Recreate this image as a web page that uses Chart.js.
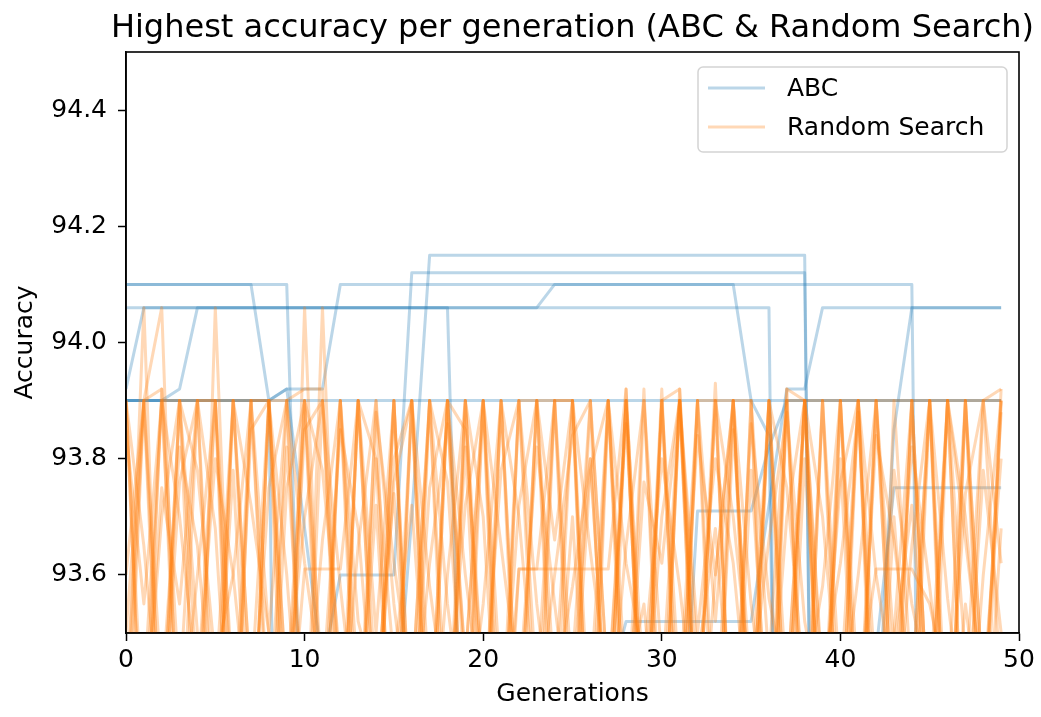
<!DOCTYPE html>
<html>
<head>
<meta charset="utf-8">
<title>Highest accuracy per generation</title>
<script src="https://cdn.jsdelivr.net/npm/chart.js@4.4.1/dist/chart.umd.min.js"></script>
<style>
    html, body { margin: 0; padding: 0; background: #fff; }
    canvas { display: block; }
</style>
</head>
<body>
<canvas id="myChart" width="1041" height="717"></canvas>
<script>
// Generasi (sumbu x)
const generations = [
    0, 1, 2, 3, 4, 5, 6, 7, 8, 9,
    10, 11, 12, 13, 14, 15, 16, 17, 18, 19,
    20, 21, 22, 23, 24, 25, 26, 27, 28, 29,
    30, 31, 32, 33, 34, 35, 36, 37, 38, 39,
    40, 41, 42, 43, 44, 45, 46, 47, 48, 49
];

const chartTitle = 'Highest accuracy per generation (ABC & Random Search)';
const seriesNames = ['ABC', 'Random Search'];
const xTicks = [0, 10, 20, 30, 40, 50];
const yTicks = [93.6, 93.8, 94.0, 94.2, 94.4];

// ABC: akurasi tertinggi per generasi, satu array per run
const abcRun1 = [
    93.90, 93.90, 93.90, 93.90, 93.90, 93.90, 93.90, 93.90, 93.90, 93.90,
    93.90, 93.90, 93.90, 93.90, 93.90, 93.90, 93.90, 93.90, 93.90, 93.90,
    93.90, 93.90, 93.90, 93.90, 93.90, 93.90, 93.90, 93.90, 93.90, 93.90,
    93.90, 93.90, 93.90, 93.90, 93.90, 93.90, 93.90, 93.90, 93.90, 93.90,
    93.90, 93.90, 93.90, 93.90, 93.90, 93.90, 93.90, 93.90, 93.90, 93.90
];
const abcRun2 = [
    94.06, 94.06, 94.06, 94.06, 94.06, 94.06, 94.06, 94.06, 94.06, 94.06,
    94.06, 94.06, 94.06, 94.06, 94.06, 94.06, 94.06, 94.06, 94.06, 93.00,
    93.20, 93.30, 93.25, 93.30, 93.35, 93.30, 93.40, 93.40, 93.52, 93.52,
    93.52, 93.52, 93.52, 93.52, 93.52, 93.52, 93.72, 93.92, 93.92, 94.06,
    94.06, 94.06, 94.06, 94.06, 94.06, 94.06, 94.06, 94.06, 94.06, 94.06
];
const abcRun3 = [
    93.92, 94.06, 94.06, 94.06, 94.06, 94.06, 94.06, 94.06, 94.06, 94.06,
    94.06, 94.06, 94.06, 94.06, 94.06, 94.06, 94.06, 94.06, 94.06, 94.06,
    94.06, 94.06, 94.06, 94.06, 94.06, 94.06, 94.06, 94.06, 94.06, 94.06,
    94.06, 94.06, 94.06, 94.06, 94.06, 94.06, 94.06, 91.50, 92.00, 92.50,
    92.80, 93.20, 93.47, 93.75, 93.75, 93.75, 93.75, 93.75, 93.75, 93.75
];
const abcRun4 = [
    93.90, 93.90, 93.90, 93.92, 94.06, 94.06, 94.06, 94.06, 94.06, 94.06,
    94.06, 94.06, 94.06, 94.06, 94.06, 94.06, 94.06, 94.06, 94.06, 94.06,
    94.06, 94.06, 94.06, 94.06, 94.10, 94.10, 94.10, 94.10, 94.10, 94.10,
    94.10, 94.10, 94.10, 94.10, 94.10, 93.90, 93.84, 92.00, 92.50, 92.80,
    93.00, 93.20, 93.30, 93.85, 94.06, 94.06, 94.06, 94.06, 94.06, 94.06
];
const abcRun5 = [
    94.10, 94.10, 94.10, 94.10, 94.10, 94.10, 94.10, 94.10, 93.90, 93.92,
    93.92, 93.92, 94.10, 94.10, 94.10, 94.10, 94.10, 94.10, 94.10, 94.10,
    94.10, 94.10, 94.10, 94.10, 94.10, 94.10, 94.10, 94.10, 94.10, 94.10,
    94.10, 94.10, 94.10, 94.10, 94.10, 94.10, 94.10, 94.10, 94.10, 94.10,
    94.10, 94.10, 94.10, 94.10, 94.10, 91.50, 92.00, 92.50, 92.80, 93.00
];
const abcRun6 = [
    93.90, 93.90, 93.90, 93.90, 93.90, 93.90, 93.90, 93.90, 93.90, 91.50,
    92.50, 92.80, 93.00, 93.10, 93.20, 93.30, 93.70, 94.15, 94.15, 94.15,
    94.15, 94.15, 94.15, 94.15, 94.15, 94.15, 94.15, 94.15, 94.15, 94.15,
    94.15, 94.15, 94.15, 94.15, 94.15, 94.15, 94.15, 94.15, 94.15, 91.50,
    92.00, 92.40, 92.70, 92.90, 93.00, 93.10, 93.10, 93.20, 93.20, 93.30
];
const abcRun7 = [
    94.10, 94.10, 94.10, 94.10, 94.10, 94.10, 94.10, 94.10, 94.10, 94.10,
    93.10, 93.20, 93.25, 93.30, 93.30, 93.35, 93.30, 93.40, 93.35, 93.30,
    93.40, 93.40, 93.35, 93.40, 93.30, 93.35, 93.40, 93.40, 93.30, 93.35,
    93.30, 93.20, 93.71, 93.71, 93.71, 93.71, 93.82, 93.90, 93.90, 93.90,
    93.90, 93.90, 93.90, 93.90, 93.90, 93.90, 93.90, 93.90, 93.90, 93.90
];
const abcRun8 = [
    93.90, 93.90, 93.90, 93.90, 93.90, 93.90, 93.90, 93.90, 93.90, 93.92,
    93.68, 93.44, 93.60, 93.60, 93.60, 93.60, 94.12, 94.12, 94.12, 94.12,
    94.12, 94.12, 94.12, 94.12, 94.12, 94.12, 94.12, 94.12, 94.12, 94.12,
    94.12, 94.12, 94.12, 94.12, 94.12, 94.12, 94.12, 94.12, 94.12, 91.50,
    92.00, 92.50, 92.80, 93.00, 93.10, 93.20, 93.20, 93.30, 93.30, 93.30
];

// Random Search: akurasi tertinggi per generasi, satu array per run
const rsRun1 = [
    93.30, 94.06, 93.20, 93.90, 93.40, 93.90, 93.10, 93.90, 93.90, 93.25,
    93.61, 93.61, 93.61, 93.90, 93.30, 93.76, 93.90, 93.20, 93.90, 93.45,
    93.90, 93.10, 93.61, 93.61, 93.61, 93.61, 93.61, 93.61, 93.92, 93.30,
    93.90, 93.20, 93.90, 93.52, 93.90, 93.20, 93.90, 93.30, 93.90, 93.10,
    93.90, 93.40, 93.61, 93.61, 93.61, 93.55, 93.40, 93.90, 93.20, 93.90
];
const rsRun2 = [
    93.90, 93.20, 93.92, 93.40, 93.10, 94.06, 93.30, 93.90, 93.50, 93.90,
    93.20, 94.06, 93.30, 93.90, 93.80, 93.20, 93.90, 93.40, 93.10, 93.90,
    93.30, 93.90, 93.20, 93.90, 93.66, 93.90, 93.10, 93.90, 93.30, 93.92,
    93.20, 93.92, 93.35, 93.93, 93.20, 93.90, 93.45, 93.92, 93.20, 93.90,
    93.30, 93.90, 93.10, 93.90, 93.40, 93.90, 93.20, 93.90, 93.30, 93.92
];
const rsRun3 = [
    93.20, 93.90, 93.30, 93.76, 93.90, 93.20, 93.90, 93.40, 93.90, 93.10,
    94.06, 93.30, 93.90, 93.20, 93.90, 93.55, 93.30, 93.90, 93.20, 93.90,
    93.70, 93.20, 93.90, 93.40, 93.90, 93.90, 93.20, 93.30, 93.90, 93.20,
    93.90, 93.92, 93.30, 93.90, 93.20, 93.90, 93.10, 93.90, 93.90, 93.30,
    93.80, 93.20, 93.90, 93.30, 93.90, 93.10, 93.90, 93.45, 93.20, 93.68
];
const rsRun4 = [
    93.40, 93.90, 94.06, 93.20, 93.90, 93.90, 93.30, 93.20, 93.90, 93.60,
    93.20, 93.90, 93.30, 93.65, 93.90, 93.10, 93.40, 93.90, 93.30, 93.82,
    93.20, 93.90, 93.30, 93.90, 93.20, 93.45, 93.90, 93.10, 93.92, 93.30,
    93.92, 93.20, 93.90, 93.90, 93.90, 93.90, 93.20, 93.92, 93.90, 93.90,
    93.90, 93.90, 93.90, 93.90, 93.90, 93.90, 93.90, 93.90, 93.90, 93.90
];
const rsRun5 = [
    93.10, 93.30, 93.90, 93.90, 93.90, 93.90, 93.90, 93.90, 93.90, 93.40,
    93.90, 93.20, 93.90, 93.40, 93.20, 93.90, 93.30, 93.75, 93.90, 93.20,
    93.90, 93.40, 93.30, 93.90, 93.90, 93.90, 93.30, 93.90, 93.20, 93.90,
    93.30, 93.90, 93.20, 93.60, 93.90, 93.30, 93.90, 93.20, 93.80, 93.30,
    93.90, 93.20, 93.90, 93.30, 93.65, 93.90, 93.10, 93.90, 93.40, 93.30
];
const rsRun6 = [
    93.90, 93.30, 93.70, 93.90, 93.20, 93.40, 93.90, 93.30, 93.20, 93.90,
    93.92, 93.92, 93.20, 93.90, 93.30, 93.90, 93.20, 93.90, 93.55, 93.30,
    93.90, 93.20, 93.61, 93.61, 93.90, 93.30, 93.90, 93.40, 93.90, 93.20,
    93.90, 93.30, 93.90, 93.20, 93.85, 93.40, 93.20, 93.90, 93.30, 93.90,
    93.20, 93.90, 93.40, 93.20, 93.90, 93.30, 93.90, 93.20, 93.60, 93.90
];
const rsRun7 = [
    93.50, 93.90, 93.20, 93.40, 93.90, 93.30, 93.78, 93.20, 93.90, 93.90,
    93.30, 93.20, 93.90, 93.30, 93.72, 93.20, 93.90, 93.30, 93.90, 93.85,
    93.40, 93.30, 93.90, 93.90, 93.30, 93.70, 93.20, 93.90, 93.40, 93.55,
    93.20, 93.90, 93.30, 93.90, 93.20, 93.78, 93.30, 93.90, 93.20, 93.90,
    93.40, 93.90, 93.20, 93.70, 93.30, 93.90, 93.20, 93.55, 93.30, 93.90
];
const rsRun8 = [
    93.20, 93.40, 93.90, 93.30, 93.60, 93.90, 93.20, 93.90, 93.30, 93.20,
    93.90, 93.40, 93.20, 93.90, 93.50, 93.90, 93.30, 93.20, 93.90, 93.40,
    93.20, 93.90, 93.30, 93.20, 93.90, 93.40, 93.80, 93.30, 93.90, 93.20,
    93.40, 93.90, 93.30, 93.20, 93.90, 93.30, 93.90, 93.40, 93.90, 93.20,
    93.30, 93.90, 93.20, 93.50, 93.90, 93.30, 93.90, 93.20, 93.90, 93.40
];
const rsRun9 = [
    93.90, 93.20, 93.30, 93.90, 93.50, 93.20, 93.90, 93.40, 93.20, 93.75,
    93.90, 93.30, 93.20, 93.90, 93.40, 93.30, 93.90, 93.20, 93.60, 93.90,
    93.30, 93.20, 93.90, 93.30, 93.40, 93.90, 93.20, 93.30, 93.90, 93.40,
    93.20, 93.90, 93.20, 93.30, 93.90, 93.20, 93.40, 93.30, 93.90, 93.20,
    93.90, 93.30, 93.40, 93.20, 93.90, 93.30, 93.20, 93.90, 93.40, 93.20
];
const rsRun10 = [
    93.30, 93.90, 93.92, 93.20, 93.30, 93.90, 93.40, 93.20, 93.90, 93.30,
    93.85, 93.90, 93.40, 93.20, 93.30, 93.90, 93.20, 93.40, 93.30, 93.90,
    93.40, 93.30, 93.20, 93.30, 93.90, 93.20, 93.40, 93.90, 93.30, 93.20,
    93.90, 93.40, 93.90, 93.30, 93.20, 93.40, 93.90, 93.30, 93.90, 93.40,
    93.20, 93.30, 93.90, 93.40, 93.20, 93.90, 93.30, 93.40, 93.90, 93.92
];
const rsRun11 = [
    93.85, 93.55, 93.90, 93.70, 93.40, 93.80, 93.60, 93.30, 93.75, 93.90,
    93.62, 93.40, 93.85, 93.68, 93.30, 93.80, 93.90, 93.58, 93.35, 93.72,
    93.90, 93.65, 93.40, 93.82, 93.55, 93.30, 93.78, 93.90, 93.62, 93.45,
    93.80, 93.58, 93.30, 93.90, 93.70, 93.40, 93.66, 93.88, 93.52, 93.35,
    93.76, 93.90, 93.60, 93.40, 93.82, 93.58, 93.30, 93.74, 93.90, 93.62
];
const rsRun12 = [
    93.60, 93.90, 93.40, 93.82, 93.65, 93.30, 93.90, 93.72, 93.50, 93.35,
    93.90, 93.78, 93.45, 93.30, 93.88, 93.62, 93.40, 93.90, 93.76, 93.30,
    93.55, 93.90, 93.70, 93.35, 93.60, 93.84, 93.90, 93.40, 93.30, 93.76,
    93.62, 93.90, 93.45, 93.68, 93.30, 93.86, 93.56, 93.40, 93.90, 93.70,
    93.35, 93.60, 93.90, 93.48, 93.72, 93.30, 93.90, 93.66, 93.40, 93.80
];
const rsRun13 = [
    93.40, 93.30, 93.75, 93.55, 93.90, 93.68, 93.20, 93.85, 93.90, 93.40,
    93.70, 93.90, 93.58, 93.30, 93.80, 93.45, 93.72, 93.30, 93.90, 93.60,
    93.35, 93.78, 93.90, 93.55, 93.30, 93.90, 93.64, 93.40, 93.86, 93.30,
    93.70, 93.90, 93.50, 93.80, 93.62, 93.30, 93.90, 93.75, 93.40, 93.58,
    93.90, 93.30, 93.84, 93.66, 93.40, 93.90, 93.56, 93.30, 93.78, 93.50
];
const rsRun14 = [
    93.90, 93.65, 93.30, 93.90, 93.78, 93.45, 93.60, 93.90, 93.35, 93.82,
    93.30, 93.66, 93.90, 93.52, 93.40, 93.74, 93.30, 93.62, 93.86, 93.45,
    93.90, 93.30, 93.72, 93.90, 93.40, 93.58, 93.80, 93.30, 93.65, 93.90,
    93.45, 93.35, 93.84, 93.60, 93.90, 93.55, 93.30, 93.70, 93.90, 93.42,
    93.62, 93.88, 93.30, 93.78, 93.55, 93.40, 93.90, 93.70, 93.35, 93.88
];

const abcRuns = [abcRun1, abcRun2, abcRun3, abcRun4, abcRun5, abcRun6, abcRun7, abcRun8];
const rsRuns = [
    rsRun1, rsRun2, rsRun3, rsRun4, rsRun5, rsRun6, rsRun7,
    rsRun8, rsRun9, rsRun10, rsRun11, rsRun12, rsRun13, rsRun14
];

// Warna garis (tab:blue / tab:orange, transparan)
const lineColors = ['rgba(31, 119, 180, 0.3)', 'rgba(255, 127, 14, 0.3)'];
const fontFamily = "'DejaVu Sans', 'Liberation Sans', sans-serif";

Chart.defaults.font.family = fontFamily;
Chart.defaults.color = '#000';

function toPoints(values) {
    return values.map((v, i) => ({ x: generations[i], y: v }));
}

function runDataset(values, seriesIndex) {
    return {
        label: seriesNames[seriesIndex],
        data: toPoints(values),
        borderColor: lineColors[seriesIndex],
        borderWidth: 3,
        borderJoinStyle: 'round',
        pointRadius: 0,
        pointHoverRadius: 0,
        tension: 0,
        fill: false,
        clip: 0
    };
}

// Random Search ditaruh di depan array supaya digambar di atas garis ABC
const datasets = [
    ...rsRuns.map(run => runDataset(run, 1)),
    ...abcRuns.map(run => runDataset(run, 0))
];

// Judul di tengah area plot (bukan tengah kanvas)
const plotTitle = {
    id: 'plotTitle',
    afterDraw(chart) {
        const { ctx, chartArea: a } = chart;
        ctx.save();
        ctx.font = `32px ${fontFamily}`;
        ctx.fillStyle = '#000';
        ctx.textAlign = 'center';
        ctx.textBaseline = 'alphabetic';
        ctx.fillText(chartTitle, (a.left + a.right) / 2, 37);
        ctx.restore();
    }
};

// Bingkai plot + legenda di dalam area grafik (pojok kanan atas)
const frameLegend = {
    id: 'frameLegend',
    afterDatasetsDraw(chart) {
        const { ctx, chartArea: a } = chart;
        ctx.save();
        ctx.strokeStyle = '#000';
        ctx.lineWidth = 1.6;
        ctx.strokeRect(a.left, a.top, a.right - a.left, a.bottom - a.top);

        const w = 309, h = 85;
        const x = a.right - 12 - w;
        const y = a.top + 15;
        ctx.beginPath();
        ctx.roundRect(x, y, w, h, 5);
        ctx.fillStyle = 'rgba(255, 255, 255, 0.8)';
        ctx.fill();
        ctx.strokeStyle = '#d4d4d4';
        ctx.lineWidth = 1.5;
        ctx.stroke();

        ctx.font = `25px ${fontFamily}`;
        ctx.textBaseline = 'middle';
        ctx.textAlign = 'left';
        seriesNames.forEach((name, i) => {
            const rowY = y + 21 + i * 39;
            ctx.beginPath();
            ctx.moveTo(x + 10, rowY);
            ctx.lineTo(x + 67, rowY);
            ctx.strokeStyle = lineColors[i];
            ctx.lineWidth = 3;
            ctx.stroke();
            ctx.fillStyle = '#000';
            ctx.fillText(name, x + 89, rowY + 1);
        });
        ctx.restore();
    }
};

const ctx = document.getElementById('myChart').getContext('2d');
const myChart = new Chart(ctx, {
    type: 'line',
    data: { datasets: datasets },
    options: {
        responsive: false,
        animation: false,
        layout: {
            padding: { left: 0, right: 22, top: 52, bottom: 0 }
        },
        plugins: {
            legend: { display: false },
            tooltip: { enabled: false },
            title: { display: false }
        },
        scales: {
            x: {
                type: 'linear',
                min: 0,
                max: 50,
                afterBuildTicks: scale => {
                    scale.ticks = xTicks.map(v => ({ value: v }));
                },
                afterFit: scale => { scale.height = 84; },
                grid: {
                    drawOnChartArea: false,
                    drawTicks: true,
                    tickLength: 8,
                    tickColor: '#000',
                    tickWidth: 1.5
                },
                border: { color: '#000', width: 1.6 },
                ticks: {
                    font: { size: 25 },
                    color: '#000',
                    padding: 4,
                    maxRotation: 0,
                    callback: v => String(v)
                },
                title: {
                    display: true,
                    text: 'Generations',
                    font: { size: 25 },
                    color: '#000',
                    padding: { top: 0, bottom: 8 }
                }
            },
            y: {
                type: 'linear',
                min: 93.5,
                max: 94.5,
                afterBuildTicks: scale => {
                    scale.ticks = yTicks.map(v => ({ value: v }));
                },
                afterFit: scale => { scale.width = 126; },
                grid: {
                    drawOnChartArea: false,
                    drawTicks: true,
                    tickLength: 8,
                    tickColor: '#000',
                    tickWidth: 1.5
                },
                border: { color: '#000', width: 1.6 },
                ticks: {
                    font: { size: 25 },
                    color: '#000',
                    padding: 11,
                    callback: v => Number(v).toFixed(1)
                },
                title: {
                    display: true,
                    text: 'Accuracy',
                    font: { size: 25 },
                    color: '#000',
                    padding: { top: 10, bottom: 0 }
                }
            }
        }
    },
    plugins: [frameLegend, plotTitle]
});
</script>
</body>
</html>
